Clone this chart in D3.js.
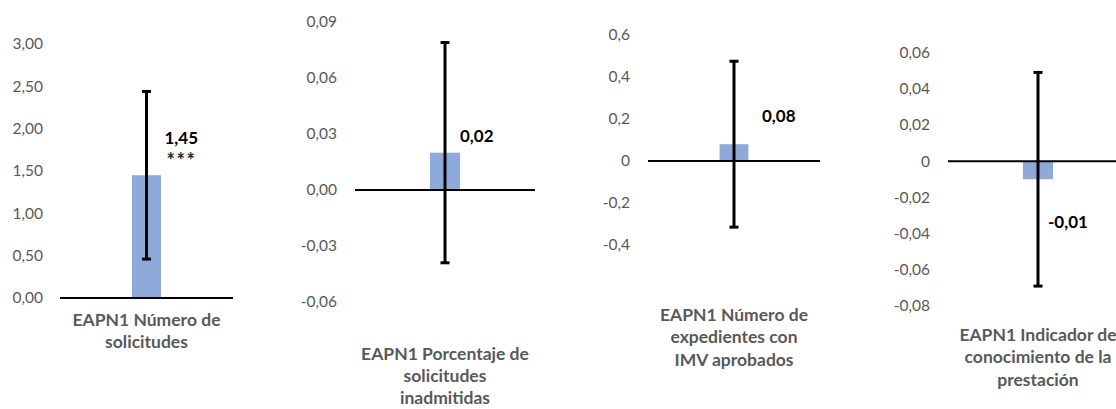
<!DOCTYPE html>
<html>
<head>
<meta charset="utf-8">
<script src="https://cdn.jsdelivr.net/npm/d3@7"></script>
<style>
  html, body { margin: 0; padding: 0; background: #fff; overflow: hidden; }
  svg { display: block; }
</style>
</head>
<body>
<svg id="chart" width="1116" height="409"></svg>
<script>
// ---- DATA ----
const categories = [
  "EAPN1 Número de solicitudes",
  "EAPN1 Porcentaje de solicitudes inadmitidas",
  "EAPN1 Número de expedientes con IMV aprobados",
  "EAPN1 Indicador de conocimiento de la prestación"
];
const titleLines = [
  ["EAPN1 Número de", "solicitudes"],
  ["EAPN1 Porcentaje de", "solicitudes", "inadmitidas"],
  ["EAPN1 Número de", "expedientes con", "IMV aprobados"],
  ["EAPN1 Indicador de", "conocimiento de la", "prestación"]
];
const values = [1.45, 0.02, 0.08, -0.01];
const errors = [0.99, 0.059, 0.395, 0.059];
const valueLabels = ["1,45", "0,02", "0,08", "-0,01"];
const significance = ["***", "", "", ""];
const ticks1 = [0, 0.5, 1, 1.5, 2, 2.5, 3];
const ticks2 = [-0.06, -0.03, 0, 0.03, 0.06, 0.09];
const ticks3 = [-0.4, -0.2, 0, 0.2, 0.4, 0.6];
const ticks4 = [-0.08, -0.06, -0.04, -0.02, 0, 0.02, 0.04, 0.06];
const tickLabels1 = ["0,00", "0,50", "1,00", "1,50", "2,00", "2,50", "3,00"];
const tickLabels2 = ["-0,06", "-0,03", "0,00", "0,03", "0,06", "0,09"];
const tickLabels3 = ["-0,4", "-0,2", "0", "0,2", "0,4", "0,6"];
const tickLabels4 = ["-0,08", "-0,06", "-0,04", "-0,02", "0", "0,02", "0,04", "0,06"];

// ---- LAYOUT (positions / styles) ----
const layout = [
  { ticks: ticks1, labels: tickLabels1, px: [298, 44], x: [60, 233], tickX: 43, lblDx: 18, lblY: 144, titleY: 326 },
  { ticks: ticks2, labels: tickLabels2, px: [302, 22], x: [355, 535], tickX: 337, lblDx: 15, lblY: 142, titleY: 359.5 },
  { ticks: ticks3, labels: tickLabels3, px: [245, 35], x: [648, 820], tickX: 630, lblDx: 28, lblY: 122, titleY: 321 },
  { ticks: ticks4, labels: tickLabels4, px: [306, 52.5], x: [948, 1128], tickX: 930, lblDx: 10, lblY: 228, titleY: 341 }
];

const svg = d3.select("#chart");
const font = "Lato, 'Open Sans', sans-serif";
const barColor = "#8eaadb";
const gray = "#595959";

categories.forEach((cat, i) => {
  const L = layout[i];
  const ticks = L.ticks;
  const y = d3.scaleLinear()
    .domain([ticks[0], ticks[ticks.length - 1]])
    .range(L.px);
  const x = d3.scaleBand()
    .domain([cat])
    .range(L.x)
    .padding(0.713);
  const g = svg.append("g");

  // y axis labels (no line, no ticks)
  const yAxis = d3.axisLeft(y)
    .tickValues(ticks)
    .tickFormat((d, k) => L.labels[k])
    .tickSize(0)
    .tickPadding(0);
  const ax = g.append("g")
    .attr("transform", `translate(${L.tickX},0)`)
    .call(yAxis);
  ax.select(".domain").remove();
  ax.selectAll("text")
    .attr("font-family", font)
    .attr("font-size", 15.5)
    .attr("fill", gray);

  // bar
  const v = values[i];
  g.append("rect")
    .attr("x", x(cat))
    .attr("width", x.bandwidth())
    .attr("y", y(Math.max(0, v)))
    .attr("height", Math.abs(y(v) - y(0)))
    .attr("fill", barColor);

  // zero axis line
  g.append("line")
    .attr("x1", L.x[0]).attr("x2", L.x[1])
    .attr("y1", y(0)).attr("y2", y(0))
    .attr("stroke", "#000").attr("stroke-width", 2);

  // error bar
  const cx = x(cat) + x.bandwidth() / 2;
  const hi = y(v + errors[i]), lo = y(v - errors[i]);
  g.append("line")
    .attr("x1", cx).attr("x2", cx)
    .attr("y1", hi).attr("y2", lo)
    .attr("stroke", "#000").attr("stroke-width", 3);
  [hi, lo].forEach(yy => {
    g.append("line")
      .attr("x1", cx - 4.5).attr("x2", cx + 4.5)
      .attr("y1", yy).attr("y2", yy)
      .attr("stroke", "#000").attr("stroke-width", 3);
  });

  // value label
  g.append("text")
    .attr("x", cx + L.lblDx)
    .attr("y", L.lblY)
    .attr("font-family", font)
    .attr("font-size", 17)
    .attr("font-weight", "bold")
    .attr("fill", "#000")
    .text(valueLabels[i]);
  if (significance[i]) {
    g.append("text")
      .attr("x", cx + L.lblDx + 2)
      .attr("y", L.lblY + 24)
      .attr("font-family", font)
      .attr("font-size", 20)
      .attr("font-weight", "bold")
      .attr("letter-spacing", 1.5)
      .attr("fill", "#262626")
      .text(significance[i]);
  }

  // category title
  const t = g.append("text")
    .attr("text-anchor", "middle")
    .attr("font-family", font)
    .attr("font-size", 17.5)
    .attr("font-weight", "bold")
    .attr("fill", gray);
  titleLines[i].forEach((line, k) => {
    t.append("tspan")
      .attr("x", cx)
      .attr("y", L.titleY + k * 22.3)
      .text(line);
  });
});
</script>
</body>
</html>
